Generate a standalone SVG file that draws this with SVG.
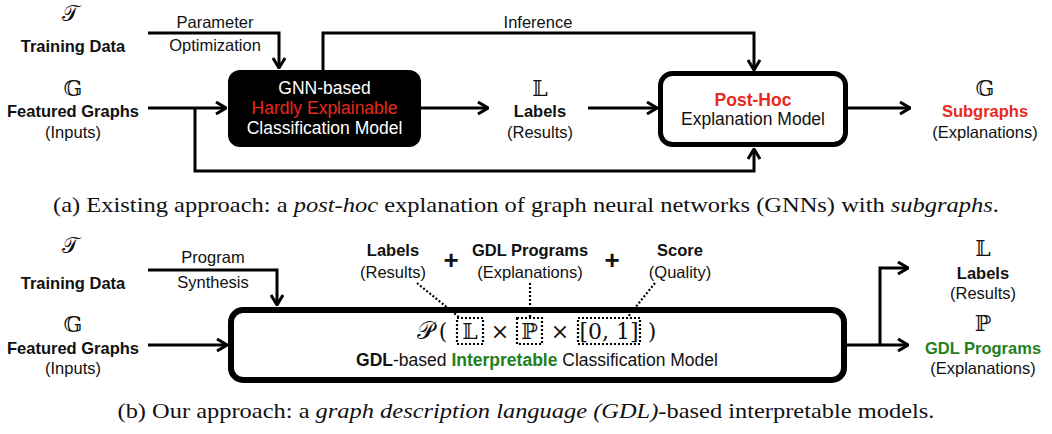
<svg xmlns="http://www.w3.org/2000/svg" width="1052" height="434" viewBox="0 0 1052 434">
  <style>
    .lbl { font-family: "Liberation Sans", Arial, sans-serif; font-size: 16.5px; fill: #111; text-anchor: middle; }
    .big { font-size: 17.5px; }
    .b { font-weight: bold; }
    .red { fill: #e8291c; }
    .grn { fill: #22801c; }
    .wht { fill: #ffffff; }
    .math { font-family: "DejaVu Serif", "Liberation Serif", serif; font-size: 22px; fill: #111; text-anchor: middle; }
    .cap { font-family: "Liberation Serif", "Times New Roman", serif; font-size: 22px; fill: #111; text-anchor: middle; }
    .wire { fill: none; stroke: #000; stroke-width: 3; }
    .dot { fill: none; stroke: #000; stroke-width: 2.2; stroke-dasharray: 2 2; }
  </style>
  <defs>
    <marker id="arr" viewBox="0 0 12 14" refX="11" refY="7" markerWidth="12" markerHeight="14" markerUnits="userSpaceOnUse" orient="auto">
      <path d="M1,1 L11,7 L1,13" fill="none" stroke="#000" stroke-width="3"/>
    </marker>
  </defs>
  <rect width="1052" height="434" fill="#fff"/>

  <!-- (a) post-hoc pipeline -->
  <g id="a-training">
    <text class="math" x="70" y="21">𝒯</text>
    <text class="lbl b" x="73" y="52">Training Data</text>
  </g>
  <g id="a-inputs">
    <text class="math" x="73" y="96">𝔾</text>
    <text class="lbl b" x="73" y="117">Featured Graphs</text>
    <text class="lbl" x="73" y="138">(Inputs)</text>
  </g>
  <g id="a-gnn">
    <rect x="228" y="70" width="193" height="77" rx="12" fill="#000"/>
    <text class="lbl big wht" x="324.5" y="94">GNN-based</text>
    <text class="lbl big red" x="324.5" y="114">Hardly Explainable</text>
    <text class="lbl big wht" x="324.5" y="134">Classification Model</text>
  </g>
  <g id="a-labels">
    <text class="math" x="540" y="96">𝕃</text>
    <text class="lbl b" x="540" y="117">Labels</text>
    <text class="lbl" x="540" y="138">(Results)</text>
  </g>
  <g id="a-posthoc">
    <rect x="660.5" y="73.5" width="185" height="71" rx="12" fill="#fff" stroke="#000" stroke-width="5"/>
    <text class="lbl big b red" x="753" y="106">Post-Hoc</text>
    <text class="lbl big" x="753" y="125">Explanation Model</text>
  </g>
  <g id="a-subgraphs">
    <text class="math" x="985" y="96">𝔾</text>
    <text class="lbl b red" x="985" y="117">Subgraphs</text>
    <text class="lbl" x="985" y="138">(Explanations)</text>
  </g>
  <g id="a-edge-labels">
    <text class="lbl" x="215" y="28">Parameter</text>
    <text class="lbl" x="215" y="51">Optimization</text>
    <text class="lbl" x="538" y="28">Inference</text>
  </g>
  <g id="a-connectors">
    <path class="wire" d="M148,33 H279 V68" marker-end="url(#arr)"/>
    <path class="wire" d="M323,70 V33 H754 V70" marker-end="url(#arr)"/>
    <path class="wire" d="M148,108 H226" marker-end="url(#arr)"/>
    <path class="wire" d="M195,108 V171 H754 V149" marker-end="url(#arr)"/>
    <path class="wire" d="M421,108 H488" marker-end="url(#arr)"/>
    <path class="wire" d="M588,108 H657" marker-end="url(#arr)"/>
    <path class="wire" d="M848,108 H910" marker-end="url(#arr)"/>
  </g>

  <text class="cap" x="526" y="212" textLength="946" lengthAdjust="spacingAndGlyphs">(a) Existing approach: a <tspan font-style="italic">post-hoc</tspan> explanation of graph neural networks (GNNs) with <tspan font-style="italic">subgraphs</tspan>.</text>

  <!-- (b) interpretable pipeline -->
  <g id="b-training">
    <text class="math" x="70" y="253">𝒯</text>
    <text class="lbl b" x="73" y="289">Training Data</text>
  </g>
  <g id="b-inputs">
    <text class="math" x="73" y="332">𝔾</text>
    <text class="lbl b" x="73" y="354">Featured Graphs</text>
    <text class="lbl" x="73" y="374">(Inputs)</text>
  </g>
  <g id="b-parts">
    <text class="lbl b" x="393" y="256">Labels</text>
    <text class="lbl" x="393" y="278">(Results)</text>
    <text class="lbl b" x="451" y="269" style="font-size:26px">+</text>
    <text class="lbl b" x="530" y="256">GDL Programs</text>
    <text class="lbl" x="530" y="278">(Explanations)</text>
    <text class="lbl b" x="612" y="269" style="font-size:26px">+</text>
    <text class="lbl b" x="680" y="256">Score</text>
    <text class="lbl" x="680" y="278">(Quality)</text>
  </g>
  <g id="b-gdl">
    <rect x="231" y="310" width="613" height="70" rx="12" fill="#fff" stroke="#000" stroke-width="6"/>
    <text class="math" x="425" y="339" style="font-size:24px">𝒫</text>
    <text class="math" x="443" y="339">(</text>
    <rect class="dot" x="457" y="318" width="26" height="26"/>
    <text class="math" x="470" y="339">𝕃</text>
    <text class="math" x="500" y="339">×</text>
    <rect class="dot" x="517" y="318" width="25" height="26"/>
    <text class="math" x="529.5" y="339">ℙ</text>
    <text class="math" x="560" y="339">×</text>
    <rect class="dot" x="578" y="318" width="62" height="26"/>
    <text class="math" x="609" y="339">[0, 1]</text>
    <text class="math" x="652" y="339">)</text>
    <text class="lbl big" x="537" y="366"><tspan class="b">GDL</tspan>-based <tspan class="b grn">Interpretable</tspan> Classification Model</text>
  </g>
  <g id="b-outputs">
    <text class="math" x="983" y="256">𝕃</text>
    <text class="lbl b" x="983" y="279">Labels</text>
    <text class="lbl" x="983" y="299">(Results)</text>
    <text class="math" x="983" y="331">ℙ</text>
    <text class="lbl b grn" x="983" y="354">GDL Programs</text>
    <text class="lbl" x="983" y="374">(Explanations)</text>
  </g>
  <g id="b-edge-labels">
    <text class="lbl" x="213" y="263">Program</text>
    <text class="lbl" x="213" y="288">Synthesis</text>
  </g>
  <g id="b-connectors">
    <path class="wire" d="M148,270 H277 V305" marker-end="url(#arr)"/>
    <path class="wire" d="M148,345 H227" marker-end="url(#arr)"/>
    <path class="wire" d="M846,345 H908" marker-end="url(#arr)"/>
    <path class="wire" d="M880,345 V268 H908" marker-end="url(#arr)"/>
    <path class="dot" d="M417,283 L460,318"/>
    <path class="dot" d="M530,283 V318"/>
    <path class="dot" d="M655,283 L627,318"/>
  </g>

  <text class="cap" x="526" y="418" textLength="817" lengthAdjust="spacingAndGlyphs">(b) Our approach: a <tspan font-style="italic">graph description language (GDL)</tspan>-based interpretable models.</text>
</svg>
